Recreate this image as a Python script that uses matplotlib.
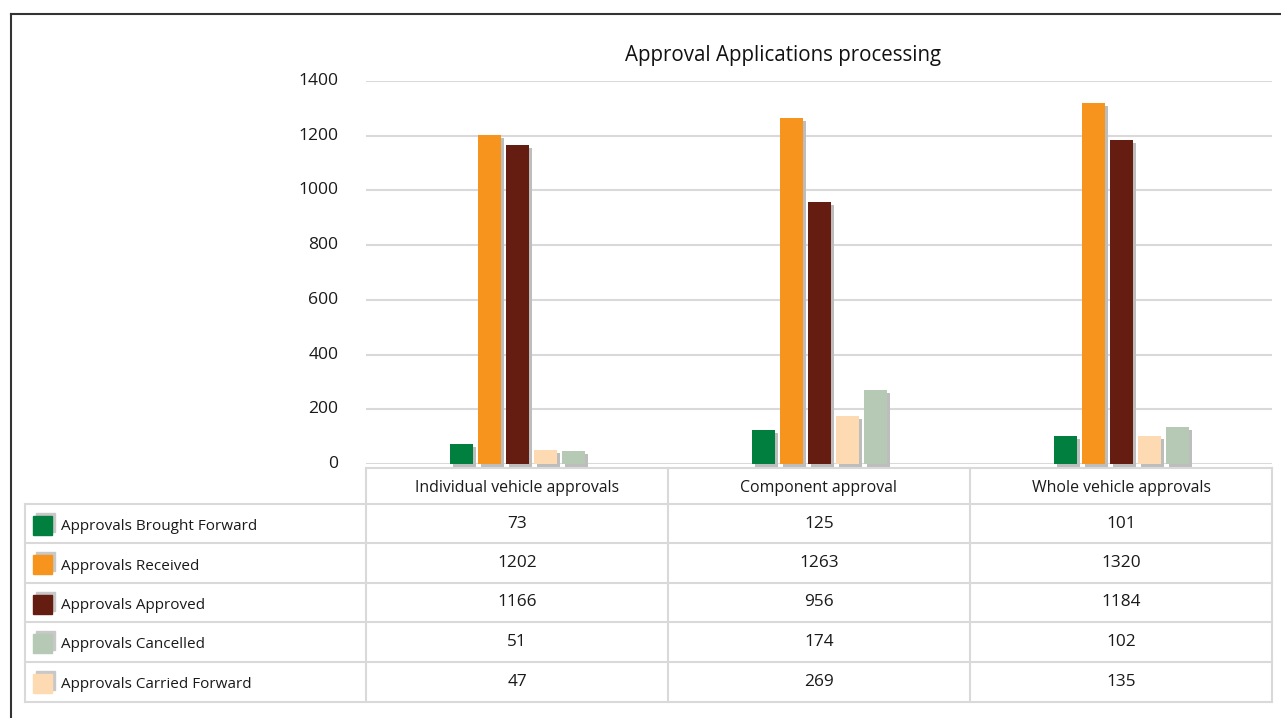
import matplotlib
matplotlib.use("Agg")
import matplotlib.pyplot as plt
from matplotlib import transforms
from matplotlib.patches import Rectangle
from matplotlib.lines import Line2D

plt.rcParams['font.family'] = ['Open Sans', 'DejaVu Sans']

# ---- data ----
title = "Approval Applications processing"
categories = ["Individual vehicle approvals", "Component approval", "Whole vehicle approvals"]
series_names = ["Approvals Brought Forward", "Approvals Received", "Approvals Approved",
                "Approvals Cancelled", "Approvals Carried Forward"]
brought_forward = [73, 125, 101]
received = [1202, 1263, 1320]
approved = [1166, 956, 1184]
cancelled = [51, 174, 102]
carried_forward = [47, 269, 135]
series_values = [brought_forward, received, approved, cancelled, carried_forward]
# colours of the bars (in drawing order) and of the legend keys, as in the picture
bar_colors = ["#007f3f", "#f7941e", "#651d11", "#fedab2", "#b5c9b4"]
key_colors = ["#007f3f", "#f7941e", "#651d11", "#b5c9b4", "#fedab2"]
yticks = [0, 200, 400, 600, 800, 1000, 1200, 1400]

W, H = 1281, 718
fig = plt.figure(figsize=(W / 100, H / 100), dpi=100)
fig.patch.set_facecolor("white")

def fx(px):
    return px / W

def fy(py):
    return 1 - py / H

# axes area in pixels
L, R, T, B = 366, 1272, 81, 464
ax = fig.add_axes([fx(L), fy(B), fx(R - L), (B - T) / H])
ax.set_xlim(-0.5, len(categories) - 0.5)
ax.set_ylim(0, 1400)
for s in ax.spines.values():
    s.set_visible(False)
ax.set_xticks([])
ax.set_yticks(yticks)
ax.tick_params(axis='y', length=0, pad=20, labelsize=12.6, labelcolor="#1a1a1a")
ax.yaxis.grid(True, color="#d9d9d9", linewidth=1.5)
ax.set_axisbelow(True)
for lbl in ax.get_yticklabels():
    lbl.set_verticalalignment("center")

step = 28 / 302
width = 23 / 302
shadow_tr = transforms.offset_copy(ax.transData, fig=fig, x=3, y=-3, units='dots')
n = len(series_values)
for i, (vals, col) in enumerate(zip(series_values, bar_colors)):
    xs = [c + (i - (n - 1) / 2) * step for c in range(len(categories))]
    ax.bar(xs, vals, width=width, color="#bdbdbd", transform=shadow_tr, zorder=2, clip_on=False)
    ax.bar(xs, vals, width=width, color=col, zorder=3)

# title
fig.text(fx(783), fy(56), title, ha="center", va="center", fontsize=14.8, color="#111111")

# outer frame
fig.add_artist(Line2D([fx(11), fx(11)], [fy(14), 0], color="#333333", lw=1.5))
fig.add_artist(Line2D([fx(11), 1], [fy(14), fy(14)], color="#333333", lw=1.5))

# data table
grid_c = "#d9d9d9"
col_x = [366, 668, 970, 1272]
row_y = [468, 504, 543, 583, 622, 662, 702]
tbl_left = 25

def hline(x0, x1, y):
    fig.add_artist(Line2D([fx(x0), fx(x1)], [fy(y), fy(y)], color=grid_c, lw=1.5))

def vline(x, y0, y1):
    fig.add_artist(Line2D([fx(x), fx(x)], [fy(y0), fy(y1)], color=grid_c, lw=1.5))

hline(col_x[0], col_x[-1], row_y[0])
for y in row_y[1:]:
    hline(tbl_left, col_x[-1], y)
vline(tbl_left, row_y[1], row_y[-1])
for x in col_x:
    vline(x, row_y[0], row_y[-1])

for j, cat in enumerate(categories):
    cx = (col_x[j] + col_x[j + 1]) / 2
    cy = (row_y[0] + row_y[1]) / 2 + 2
    fig.text(fx(cx), fy(cy), cat, ha="center", va="center", fontsize=11.4, color="#1a1a1a")

for i, (name, vals) in enumerate(zip(series_names, series_values)):
    y0, y1 = row_y[i + 1], row_y[i + 2]
    cy = (y0 + y1) / 2 + 2
    # legend key with shadow
    fig.add_artist(Rectangle((fx(36), fy(cy + 6)), fx(19), 19 / H, color="#c8c8c8"))
    fig.add_artist(Rectangle((fx(33), fy(cy + 9)), fx(19), 19 / H, color=key_colors[i]))
    fig.text(fx(61), fy(cy + 1), name, ha="left", va="center", fontsize=11, color="#1a1a1a")
    for j, v in enumerate(vals):
        cx = (col_x[j] + col_x[j + 1]) / 2
        fig.text(fx(cx), fy(cy - 2), str(v), ha="center", va="center", fontsize=12.4, color="#1a1a1a")

fig.savefig("out.png", dpi=100, facecolor="white")
